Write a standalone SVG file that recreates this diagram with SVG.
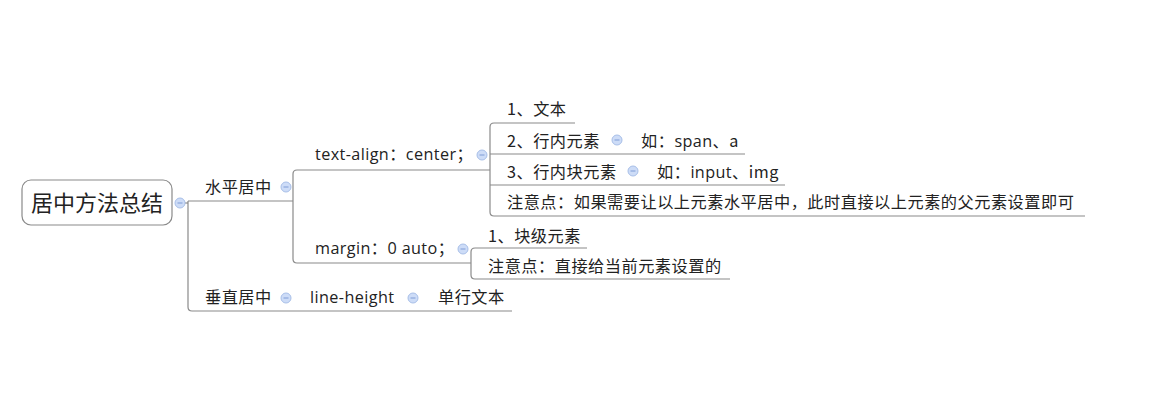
<svg xmlns="http://www.w3.org/2000/svg" width="1171" height="407" viewBox="0 0 1171 407">
<style>
text{font-family:"Noto Sans CJK SC","Microsoft YaHei",sans-serif;font-size:16.2px;letter-spacing:0.5px;fill:#222}
.lat{font-family:"Open Sans","Noto Sans CJK SC",sans-serif;font-size:16.2px;letter-spacing:0.4px}
.root{font-size:22px;letter-spacing:0}
.ln{fill:none;stroke:#8a8a8a;stroke-width:1.2}
.cb{fill:#cddcf7;stroke:#a8bfe8;stroke-width:1}
.cm{stroke:#7f9cd6;stroke-width:1}
</style>
<defs>
<g id="col"><circle class="cb" r="5"/><line class="cm" x1="-2.5" y1="0" x2="2.5" y2="0"/></g>
</defs>
<rect width="1171" height="407" fill="#fff"/>
<g id="connectors">
<path class="ln" d="M185 203H188"/>
<path class="ln" d="M188 201V307Q188 311 192 311H512"/>
<path class="ln" d="M188 201H293"/>
<path class="ln" d="M293 174Q293 170 297 170H490"/>
<path class="ln" d="M293 174V259Q293 263 297 263H471"/>
<path class="ln" d="M575 123H494Q490 123 490 127V212Q490 216 494 216H1085"/>
<path class="ln" d="M490 154H745"/>
<path class="ln" d="M490 185H785"/>
<path class="ln" d="M587 248H475Q471 248 471 252V275Q471 279 475 279H730"/>
</g>
<g id="root"><rect x="22" y="180" width="150" height="45" rx="9" fill="#fff" stroke="#8a8a8a" stroke-width="1.2"/><text class="root" x="97" y="211" text-anchor="middle">居中方法总结</text><use href="#col" x="180" y="203"/></g>
<g id="n-shuiping"><text x="205" y="193">水平居中</text><use href="#col" x="286" y="187"/></g>
<g id="n-chuizhi"><text x="205" y="303">垂直居中</text><use href="#col" x="286" y="298"/></g>
<g id="n-lineheight"><text class="lat" x="310" y="303">line-height</text><use href="#col" x="413" y="298"/></g>
<g id="n-danhang"><text x="438" y="303">单行文本</text></g>
<g id="n-textalign"><text class="lat" x="315" y="160">text-align：center；</text><use href="#col" x="482" y="155"/></g>
<g id="n-margin"><text class="lat" x="315" y="254">margin：0 auto；</text><use href="#col" x="463" y="249"/></g>
<g id="n-wenben"><text x="507" y="115">1、文本</text></g>
<g id="n-hangnei"><text x="507" y="147">2、行内元素</text><use href="#col" x="617" y="140"/></g>
<g id="n-span"><text x="641" y="147"><tspan>如：</tspan><tspan class="lat">span</tspan><tspan>、a</tspan></text></g>
<g id="n-hangneikuai"><text x="507" y="178">3、行内块元素</text><use href="#col" x="633" y="171"/></g>
<g id="n-input"><text x="657" y="178"><tspan>如：</tspan><tspan class="lat">input</tspan><tspan>、img</tspan></text></g>
<g id="n-zhuyi1"><text x="507" y="208">注意点：如果需要让以上元素水平居中，此时直接以上元素的父元素设置即可</text></g>
<g id="n-kuaiji"><text x="488" y="242">1、块级元素</text></g>
<g id="n-zhuyi2"><text x="488" y="272">注意点：直接给当前元素设置的</text></g>
</svg>
